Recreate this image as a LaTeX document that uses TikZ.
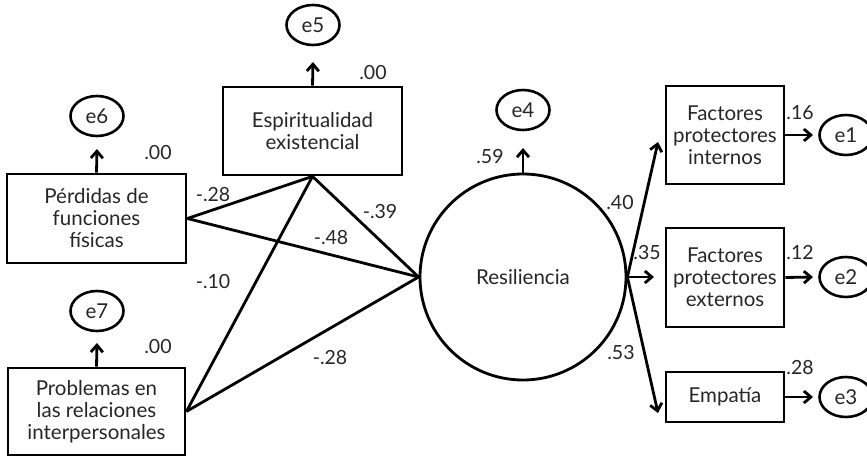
\documentclass[tikz,border=0pt]{standalone}
\usepackage{fontspec}
\setmainfont{Lato}
\usetikzlibrary{arrows.meta,shapes.geometric}
\begin{document}
\begin{tikzpicture}[x=1pt,y=-1pt,
  line width=2.8pt,
  font=\fontsize{20.5}{22}\selectfont,
  text=black!85,
  varbox/.style={draw,rectangle,align=center,inner sep=0pt},
  errnode/.style={draw,ellipse,minimum width=53pt,minimum height=40pt,inner sep=0pt,line width=2.6pt},
  latent/.style={draw,circle,minimum size=206pt,inner sep=0pt},
  path/.style={-{Straight Barb[length=7pt,width=12pt,line width=2.8pt]}},
  coef/.style={font=\fontsize{19.5}{22}\selectfont}
]
\useasboundingbox (0,0) rectangle (867,457);

% observed exogenous variables
\node[varbox,minimum width=179pt,minimum height=88pt] (esp) at (312.5,131) {Espiritualidad\\existencial};
\node[varbox,minimum width=179pt,minimum height=89pt] (perd) at (96.5,218.5) {Pérdidas de\\funciones\\físicas};
\node[varbox,minimum width=177pt,minimum height=87pt] (prob) at (96.5,411.5) {Problemas en\\las relaciones\\interpersonales};

% latent factor
\node[latent] (res) at (523,277) {Resiliencia};

% indicators
\node[varbox,minimum width=118pt,minimum height=98pt] (fpi) at (725,135) {Factores\\protectores\\internos};
\node[varbox,minimum width=118pt,minimum height=99pt] (fpe) at (725,277.5) {Factores\\protectores\\externos};
\node[varbox,minimum width=118pt,minimum height=50pt] (emp) at (725,397) {Empatía};

% error terms
\node[errnode] (e5) at (313,25) {e5};
\node[errnode] (e6) at (97,116) {e6};
\node[errnode] (e7) at (97,311) {e7};
\node[errnode] (e4) at (523,110) {e4};
\node[errnode] (e1) at (846,135) {e1};
\node[errnode] (e2) at (846,277) {e2};
\node[errnode] (e3) at (846,397) {e3};

% error arrows (free arrow ends)
\coordinate (t5) at (313,62);
\coordinate (t6) at (97,149);
\coordinate (t7) at (97,343);
\coordinate (t4) at (523,148);
\draw[path] (esp.north) -- (t5);
\draw[path] (perd.north) -- (t6);
\draw[path] (prob.north) -- (t7);
\draw[path] (res.north) -- (t4);

% structural paths
\draw (perd.east) -- (esp.south);
\draw (perd.east) -- (res.west);
\draw (prob.east) -- (esp.south);
\draw (prob.east) -- (res.west);
\draw (esp.south) -- (res.west);

% measurement paths
\coordinate (a1) at (658,142);
\coordinate (a2) at (654,277);
\coordinate (a3) at (658,413);
\draw[path] (res.east) -- (a1);
\draw[path] (res.east) -- (a2);
\draw[path] (res.east) -- (a3);

\coordinate (b1) at (813,135);
\coordinate (b2) at (813,277);
\coordinate (b3) at (813,397);
\draw[path] (fpi.east) -- (b1);
\draw[path] (fpe.east) -- (b2);
\draw[path] (emp.east) -- (b3);

% coefficients
\node[coef] (c5) at (373,73) {.00};
\node[coef] (c6) at (158,153) {.00};
\node[coef] (c7) at (158,347) {.00};
\node[coef] (c4) at (490,157) {.59};
\node[coef] (p1) at (213,195) {-.28};
\node[coef] (p2) at (331,238) {-.48};
\node[coef] (p3) at (380,212) {-.39};
\node[coef] (p4) at (213,282) {-.10};
\node[coef] (p5) at (330,358) {-.28};
\node[coef] (l1) at (620,203) {.40};
\node[coef] (l2) at (647,253) {.35};
\node[coef] (l3) at (621,353) {.53};
\node[coef] (r1) at (800,113) {.16};
\node[coef] (r2) at (800,253) {.12};
\node[coef] (r3) at (800,368) {.28};
\end{tikzpicture}
\end{document}
